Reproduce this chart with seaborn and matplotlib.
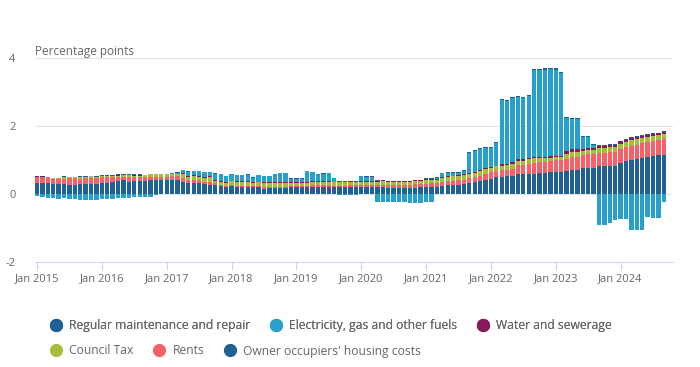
import numpy as np
import pandas as pd
import matplotlib
matplotlib.use("Agg")
import matplotlib.pyplot as plt
from matplotlib.lines import Line2D
import seaborn as sns

# monthly contributions, Jan 2015 - Sep 2024 (percentage points)
months = pd.date_range("2015-01-01", "2024-09-01", freq="MS")

owner_occupiers = [
    0.32, 0.32, 0.32, 0.30, 0.30, 0.30, 0.28, 0.28, 0.30, 0.29, 0.31, 0.31,
    0.33, 0.33, 0.35, 0.38, 0.42, 0.37, 0.39, 0.39, 0.38, 0.43, 0.43, 0.43,
    0.43, 0.43, 0.42, 0.37, 0.33, 0.33, 0.33, 0.30, 0.28, 0.28, 0.25, 0.22,
    0.23, 0.21, 0.21, 0.21, 0.20, 0.20, 0.16, 0.18, 0.17, 0.18, 0.18, 0.20,
    0.20, 0.20, 0.20, 0.22, 0.22, 0.22, 0.22, 0.20, 0.20, 0.20, 0.20, 0.20,
    0.20, 0.20, 0.20, 0.20, 0.20, 0.19, 0.19, 0.18, 0.18, 0.18, 0.19, 0.20,
    0.21, 0.22, 0.22, 0.25, 0.26, 0.27, 0.28, 0.31, 0.33, 0.36, 0.39, 0.42,
    0.45, 0.49, 0.51, 0.54, 0.54, 0.60, 0.60, 0.60, 0.60, 0.62, 0.62, 0.65,
    0.66, 0.66, 0.67, 0.72, 0.72, 0.77, 0.77, 0.77, 0.84, 0.84, 0.84, 0.84,
    0.93, 0.98, 1.01, 1.04, 1.07, 1.10, 1.12, 1.14, 1.16,
]
rents = [
    0.17, 0.17, 0.17, 0.15, 0.15, 0.15, 0.18, 0.18, 0.15, 0.17, 0.17, 0.17,
    0.17, 0.17, 0.15, 0.12, 0.08, 0.13, 0.11, 0.11, 0.11, 0.08, 0.08, 0.08,
    0.08, 0.10, 0.10, 0.10, 0.08, 0.08, 0.08, 0.07, 0.09, 0.05, 0.03, 0.03,
    0.03, 0.03, 0.03, 0.03, 0.03, 0.03, 0.05, 0.04, 0.04, 0.04, 0.04, 0.03,
    0.03, 0.03, 0.03, 0.05, 0.05, 0.05, 0.05, 0.05, 0.05, 0.05, 0.06, 0.06,
    0.06, 0.06, 0.07, 0.07, 0.08, 0.08, 0.08, 0.09, 0.09, 0.09, 0.10, 0.10,
    0.10, 0.10, 0.10, 0.11, 0.12, 0.11, 0.13, 0.12, 0.15, 0.14, 0.15, 0.18,
    0.19, 0.18, 0.19, 0.18, 0.21, 0.26, 0.27, 0.30, 0.32, 0.32, 0.34, 0.32,
    0.33, 0.33, 0.36, 0.37, 0.38, 0.39, 0.40, 0.40, 0.37, 0.37, 0.40, 0.40,
    0.40, 0.40, 0.42, 0.42, 0.43, 0.43, 0.44, 0.44, 0.46,
]
council_tax = [
    0.00, 0.00, 0.01, 0.02, 0.02, 0.06, 0.03, 0.03, 0.06, 0.05, 0.05, 0.03,
    0.04, 0.04, 0.04, 0.04, 0.07, 0.07, 0.04, 0.04, 0.07, 0.07, 0.07, 0.07,
    0.07, 0.07, 0.07, 0.12, 0.10, 0.13, 0.10, 0.10, 0.13, 0.07, 0.09, 0.09,
    0.12, 0.11, 0.12, 0.12, 0.11, 0.12, 0.11, 0.11, 0.11, 0.11, 0.11, 0.11,
    0.11, 0.11, 0.11, 0.10, 0.10, 0.10, 0.10, 0.10, 0.10, 0.10, 0.10, 0.10,
    0.10, 0.10, 0.10, 0.10, 0.10, 0.10, 0.10, 0.10, 0.10, 0.10, 0.10, 0.10,
    0.10, 0.10, 0.10, 0.12, 0.13, 0.15, 0.12, 0.13, 0.12, 0.12, 0.15, 0.14,
    0.12, 0.15, 0.14, 0.13, 0.14, 0.11, 0.11, 0.12, 0.13, 0.11, 0.11, 0.10,
    0.11, 0.09, 0.15, 0.15, 0.15, 0.12, 0.12, 0.12, 0.15, 0.15, 0.15, 0.15,
    0.15, 0.15, 0.15, 0.15, 0.15, 0.15, 0.15, 0.15, 0.15,
]
water = [
    0.03, 0.03, 0.00, 0.00, 0.00, 0.00, 0.00, 0.00, 0.00, 0.00, 0.00, 0.00,
    0.00, 0.00, 0.00, 0.03, 0.00, 0.00, 0.03, 0.03, 0.00, 0.00, 0.00, 0.00,
    0.00, 0.00, 0.00, 0.03, 0.03, 0.02, 0.03, 0.03, 0.02, 0.03, 0.03, 0.02,
    0.02, 0.03, 0.02, 0.03, 0.03, 0.02, 0.03, 0.02, 0.03, 0.02, 0.02, 0.03,
    0.03, 0.03, 0.03, 0.03, 0.02, 0.03, 0.02, 0.02, 0.02, 0.02, 0.02, 0.02,
    0.03, 0.03, 0.02, 0.03, 0.03, 0.02, 0.02, 0.02, 0.02, 0.02, 0.02, 0.02,
    0.03, 0.03, 0.02, 0.03, 0.02, 0.00, 0.03, 0.02, 0.03, 0.03, 0.02, 0.03,
    0.03, 0.02, 0.05, 0.05, 0.05, 0.05, 0.04, 0.03, 0.03, 0.04, 0.03, 0.04,
    0.03, 0.04, 0.09, 0.08, 0.07, 0.06, 0.06, 0.06, 0.07, 0.07, 0.07, 0.06,
    0.07, 0.07, 0.07, 0.07, 0.06, 0.06, 0.06, 0.06, 0.06,
]
electricity = [
    -0.07, -0.09, -0.12, -0.12, -0.13, -0.12, -0.13, -0.13, -0.16, -0.16, -0.16, -0.16,
    -0.14, -0.14, -0.14, -0.12, -0.11, -0.11, -0.10, -0.10, -0.10, -0.08, -0.04, 0.01,
    0.01, 0.02, 0.04, 0.08, 0.12, 0.11, 0.13, 0.15, 0.12, 0.17, 0.18, 0.17,
    0.18, 0.18, 0.18, 0.18, 0.11, 0.18, 0.18, 0.18, 0.24, 0.26, 0.26, 0.08,
    0.08, 0.08, 0.30, 0.25, 0.20, 0.20, 0.22, 0.10, -0.04, -0.04, -0.04, -0.04,
    0.14, 0.12, 0.12, -0.22, -0.22, -0.22, -0.24, -0.24, -0.24, -0.25, -0.25, -0.25,
    -0.22, -0.22, 0.03, 0.10, 0.10, 0.10, 0.07, 0.10, 0.59, 0.62, 0.62, 0.60,
    0.57, 0.66, 1.87, 1.85, 1.88, 1.85, 1.82, 1.85, 2.57, 2.56, 2.57, 2.57,
    2.54, 2.45, 0.96, 0.90, 0.90, 0.34, 0.34, 0.10, -0.91, -0.91, -0.86, -0.76,
    -0.73, -0.73, -1.07, -1.05, -1.05, -0.66, -0.69, -0.69, -0.22,
]
maintenance = [0.01] * 72 + [0.02] * 8 + [0.03] * 28 + [0.02] * 9

# stacking order, bottom to top
series = [
    ("Owner occupiers' housing costs", owner_occupiers, "#206095"),
    ("Rents", rents, "#f66068"),
    ("Council Tax", council_tax, "#a8bd3a"),
    ("Water and sewerage", water, "#871a5b"),
    ("Electricity, gas and other fuels", electricity, "#27a0cc"),
    ("Regular maintenance and repair", maintenance, "#206095"),
]

sns.set_theme(style="white")
plt.rcParams["font.family"] = ["Open Sans", "DejaVu Sans"]

fig = plt.figure(figsize=(7, 3.67), dpi=100)
ax = fig.add_axes([35 / 700, 1 - 262 / 367, 638 / 700, 203.7 / 367])

idx = np.arange(len(months))
pos = np.zeros(len(months))
neg = np.zeros(len(months))
for name, vals, col in series:
    v = np.array(vals)
    bottom = np.where(v >= 0, pos, neg)
    df = pd.DataFrame({"x": idx, "y": v})
    sns.barplot(data=df, x="x", y="y", bottom=bottom, color=col, width=0.8,
                linewidth=0, errorbar=None, saturation=1, ax=ax)
    pos = pos + np.clip(v, 0, None)
    neg = neg + np.clip(v, None, 0)

ax.set_xlim(-0.37, 117.7)
ax.set_ylim(-2, 4)
ax.set_yticks([-2, 0, 2, 4])
ax.set_yticklabels(["-2", "0", "2", "4"])
ticks = list(range(0, len(months), 12))
ax.set_xticks(ticks)
ax.set_xticklabels([months[i].strftime("Jan %Y") for i in ticks])
ax.set_xlabel("")
ax.set_ylabel("")

for yv in [0, 2, 4]:
    ax.axhline(yv, color="#e2e2e2", lw=0.8, zorder=0)
for s in ["top", "right", "left"]:
    ax.spines[s].set_visible(False)
ax.spines["bottom"].set_color("#ccd6eb")
ax.spines["bottom"].set_linewidth(0.8)

ax.tick_params(axis="x", length=6, width=0.8, color="#ccd6eb", labelsize=8, pad=2,
               bottom=True, labelcolor="#666666")
ax.tick_params(axis="y", length=0, labelsize=8, pad=14, labelcolor="#666666")

fig.text(35 / 700, 1 - 52 / 367, "Percentage points", fontsize=8.5, color="#666666",
         ha="left", va="center")

def handle(c):
    return Line2D([], [], marker="o", linestyle="", markersize=8.5, color=c)

row1 = [series[5], series[4], series[3]]
row2 = [series[2], series[1], series[0]]
legend_kw = dict(loc="center left", ncol=3, frameon=False, fontsize=8.7,
                 handletextpad=0.6, columnspacing=1.6, handlelength=1.0,
                 borderaxespad=0, borderpad=0)
leg1 = fig.legend([handle(c) for _, _, c in row1], [n for n, _, _ in row1],
                  bbox_to_anchor=(50 / 700, 1 - 326 / 367), **legend_kw)
leg2 = fig.legend([handle(c) for _, _, c in row2], [n for n, _, _ in row2],
                  bbox_to_anchor=(50 / 700, 1 - 351 / 367), **legend_kw)
for lg in (leg1, leg2):
    for t in lg.get_texts():
        t.set_color("#666666")
fig.add_artist(leg1)

fig.savefig("out.png", dpi=100)
